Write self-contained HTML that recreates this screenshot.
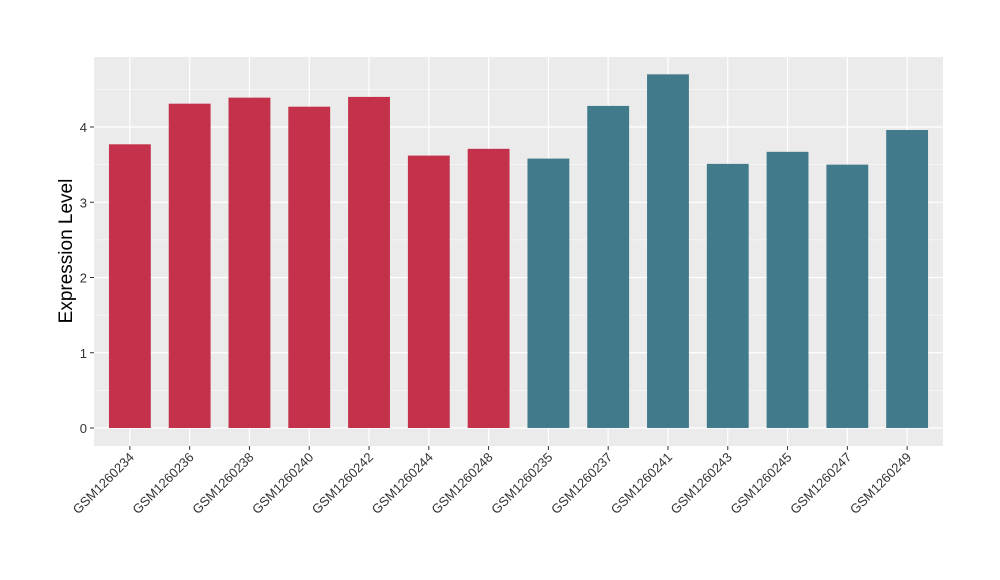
<!DOCTYPE html>
<html><head><meta charset="utf-8"><style>body{margin:0;background:#fff}svg{display:block;font-family:"Liberation Sans",Arial,sans-serif}</style></head>
<body>
<svg id="chart" width="1000" height="580" viewBox="0 0 1000 580">
<rect x="94" y="57" width="849" height="389" fill="#EBEBEB"/>
<g id="grid"></g><g id="bars"></g><g id="axes"></g>
<text transform="translate(72,251) rotate(-90)" text-anchor="middle" font-size="19" fill="#000">Expression Level</text>
</svg>
<script>
const categories=["GSM1260234","GSM1260236","GSM1260238","GSM1260240","GSM1260242","GSM1260244","GSM1260248","GSM1260235","GSM1260237","GSM1260241","GSM1260243","GSM1260245","GSM1260247","GSM1260249"];
const values=[3.77,4.31,4.39,4.27,4.40,3.62,3.71,3.58,4.28,4.70,3.51,3.67,3.50,3.96];
const groups=["a","a","a","a","a","a","a","b","b","b","b","b","b","b"];
const yTicks=[0,1,2,3,4];
const colors={a:"#C3314A",b:"#417A8B"};
const NS="http://www.w3.org/2000/svg";
const px0=94,pw=849,py0=57,ph=389;
const yZero=428,yPer=75.25;
const step=pw/(categories.length-1+1.2);
function x(i){return px0+(i+0.6)*step;}
function y(v){return yZero-v*yPer;}
function mk(t,a,p){const e=document.createElementNS(NS,t);for(const k in a)e.setAttribute(k,a[k]);p.appendChild(e);return e;}
const grid=document.getElementById('grid'),bars=document.getElementById('bars'),axes=document.getElementById('axes');
for(let i=0;i<yTicks.length;i++){
 const v=yTicks[i];
 const g=mk('line',{x1:px0,x2:px0+pw,y1:y(v),y2:y(v),stroke:'#fff','stroke-width':1.2},grid);
 
 
 const m=mk('line',{x1:px0,x2:px0+pw,y1:y(v+0.5),y2:y(v+0.5),stroke:'#fff','stroke-width':0.5},grid);
 
 
 const tk=mk('line',{x1:px0-4,x2:px0,y1:y(v),y2:y(v),stroke:'#333','stroke-width':1},axes);
 
 
 const t=mk('text',{x:px0-7,y:y(v)+5,'text-anchor':'end','font-size':13,fill:'#333'},axes);
 t.textContent=v;
 
 
}
categories.forEach((c,i)=>{
 const gl=mk('line',{x1:x(i),x2:x(i),y1:py0,y2:py0+ph,stroke:'#fff','stroke-width':1.2},grid);
 
 
 const bw=step*0.7;
 const r=mk('rect',{x:x(i)-bw/2,y:y(values[i]),width:bw,height:y(0)-y(values[i]),fill:colors[groups[i]]},bars);
 
 
 const tk=mk('line',{x1:x(i),x2:x(i),y1:py0+ph,y2:py0+ph+4,stroke:'#333','stroke-width':1},axes);
 
 
 const t=mk('text',{transform:`translate(${x(i)+5},${py0+ph+12}) rotate(-45)`,'text-anchor':'end','font-size':13,fill:'#333'},axes);
 t.textContent=c;
 
 
});
</script>
</body></html>
